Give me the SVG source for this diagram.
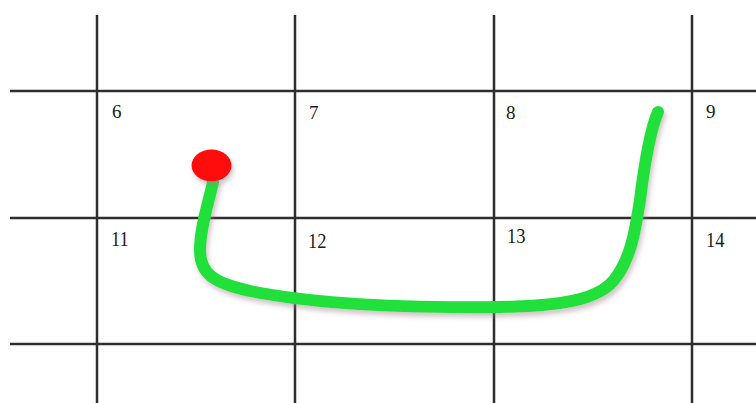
<svg xmlns="http://www.w3.org/2000/svg" width="756" height="403" viewBox="0 0 756 403">
<defs>
<style>
.grid{stroke:#2e2e2e;stroke-width:2.5;fill:none}
.num{font-family:"Liberation Serif","Times New Roman",serif;fill:#1a1a1a}
.top{font-size:19px}
.bot{font-size:21px}
</style>
<filter id="sh" x="-10%" y="-10%" width="120%" height="130%">
<feGaussianBlur in="SourceAlpha" stdDeviation="2.5"/>
<feOffset dx="2" dy="4" result="b"/>
<feFlood flood-color="#9a7f8a" flood-opacity="0.45"/>
<feComposite in2="b" operator="in"/>
<feMerge><feMergeNode/><feMergeNode in="SourceGraphic"/></feMerge>
</filter>
</defs>
<rect width="756" height="403" fill="#ffffff"/>
<g id="grid" class="grid">
<line x1="97" y1="15" x2="97" y2="403"/>
<line x1="295" y1="15" x2="295" y2="403"/>
<line x1="494" y1="15" x2="494" y2="403"/>
<line x1="692" y1="15" x2="692" y2="403"/>
<line x1="10" y1="91" x2="756" y2="91"/>
<line x1="10" y1="218" x2="756" y2="218"/>
<line x1="10" y1="344" x2="756" y2="344"/>
</g>
<g id="labels" class="num">
<text class="top" x="112" y="118">6</text>
<text class="top" x="309" y="119">7</text>
<text class="top" x="506" y="119">8</text>
<text class="top" x="706" y="118">9</text>
<text class="bot" x="111" y="246" transform="translate(111 246) scale(0.88 1) translate(-111 -246)">11</text>
<text class="bot" x="308" y="248" transform="translate(308 248) scale(0.88 1) translate(-308 -248)">12</text>
<text class="bot" x="507" y="243" transform="translate(507 243) scale(0.88 1) translate(-507 -243)">13</text>
<text class="bot" x="706" y="247" transform="translate(706 247) scale(0.88 1) translate(-706 -247)">14</text>
</g>
<g id="connectors">
<path d="M213,182 C208,205 200,228 200,250 C200,274 214,283 250,291 C320,305 420,308 500,307 C560,306 598,300 614,280 C632,258 636,225 640,200 C645,160 650,130 658,112" fill="none" stroke="#22e03a" stroke-width="12" stroke-linecap="round" filter="url(#sh)"/>
</g>
<g id="start">
<ellipse cx="211.5" cy="165.5" rx="20" ry="16" fill="#ff0a0a" filter="url(#sh)"/>
</g>
</svg>
